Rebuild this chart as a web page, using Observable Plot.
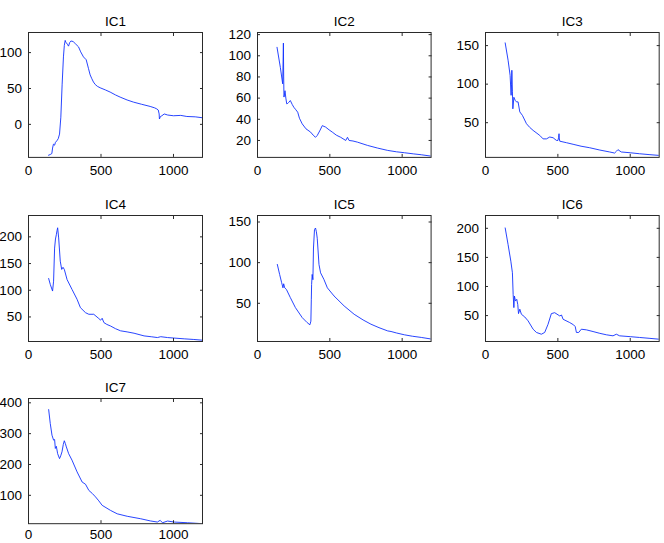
<!DOCTYPE html>
<html>
<head>
<meta charset="utf-8">
<script src="https://cdn.jsdelivr.net/npm/d3@7"></script>
<script src="https://cdn.jsdelivr.net/npm/@observablehq/plot@0.6"></script>
<style>
  html, body { margin: 0; padding: 0; background: #fff; }
  #fig { position: relative; width: 664px; height: 543px; overflow: hidden; }
  #fig svg { position: absolute; }
</style>
</head>
<body>
<div id="fig"></div>
<script>
// ---- data ----
const titles = ["IC1", "IC2", "IC3", "IC4", "IC5", "IC6", "IC7"];
const xTicks = [0, 500, 1000];
const xDomain = [0, 1200];

const ic1X = [138,150,161,166,172,180,186,195,205,214,223,232,241,247,253,258,264,270,276,284,292,300,310,325,345,360,379,398,414,425,437,448,460,475,494,530,563,600,632,680,724,780,839,870,885,895,901,903,910,920,936,960,1000,1050,1092,1150,1196];
const ic1Y = [-43,-42,-40.6,-33,-27.6,-29,-25,-23,-20,-13.5,10,56,94,110,117,114,113,111,109,114,116,116,115,112,108,101,94,90,77.6,69,63.5,59,55.6,53,51,48,45,41,38,34,31,28,25,23,21.5,20,14.5,7.5,11,12,14.5,13,12,12.5,11,10.5,9.3];
const ic1Ticks = [0, 50, 100];
const ic1Dom = [-46, 128];

const ic2X = [135,158,174,177,179,181,183,186,190,196,202,209,216,227,240,251,265,278,290,309,335,367,385,401,413,430,448,471,495,517,545,575,610,622,633,660,691,761,830,900,960,1016,1080,1132,1200];
const ic2Y = [108,89,73.5,95,112,80,61,63,67,60,54.6,55,56,57.7,54,51.4,49,46.7,41,35.7,31,27.9,25,23,24.7,29,34,32.6,30,27.9,25,23,20,23,20,19.5,18.4,15.3,12.8,10.6,9.3,8.4,7.3,6.5,5.2];
const ic2Ticks = [20, 40, 60, 80, 100, 120];
const ic2Dom = [4, 122];

const ic3X = [136,156,170,177,180,182,186,189,196,205,214,225,237,255,283,305,329,375,398,421,444,467,490,501,505,508,510,513,560,605,660,720,790,858,892,905,915,938,1000,1065,1130,1196];
const ic3Y = [153.5,131,111.5,85.5,100,118,90,68,83,79,77,77,64,59.5,48.7,44,40,33.5,29,29,31.4,30.5,27,27,31,35.7,30,26,24,22,19.5,17.5,14.5,12,10.6,13,15,12,11,9.7,8.6,7.6];
const ic3Ticks = [50, 100, 150];
const ic3Dom = [5, 167];

const ic4X = [139,150,166,173,180,186,192,197,201,208,219,229,238,247,266,300,335,358,393,416,450,485,497,508,520,540,566,600,635,680,728,797,850,889,912,959,1010,1074,1140,1201];
const ic4Y = [122,111,98.5,117,179,196,204,212,217,198,154.5,139,143,139,120,101.6,83,67.4,58,55,55,47,44,47.5,39.4,36,33,28,24,22,19.5,14.5,12.8,11.4,13,11.4,10.3,9,7.8,6.4];
const ic4Ticks = [50, 100, 150, 200];
const ic4Dom = [4, 240];

const ic5X = [137,153,167,176,181,188,200,227,262,309,343,362,369,372,374,378,383,387,394,401,407,413,425,436,459,483,529,599,668,730,784,840,900,923,960,1016,1070,1132,1202];
const ic5Y = [97.8,85.5,75.3,69,74,69,67,57,44.7,32.4,26.3,23.5,28,55,73,85.5,79,118,140.6,142.6,138,130,97.8,87.5,79.4,69,59,46.7,36.5,29.5,24.3,20,16,15.3,13.5,11.2,9.5,8,6];
const ic5Ticks = [50, 100, 150];
const ic5Dom = [3, 158];

const ic6X = [136,156,175,186,191,196,200,207,216,223,228,237,248,271,294,329,352,386,409,432,455,478,513,525,536,582,609,620,628,644,662,697,743,790,835,881,904,927,1000,1065,1130,1196];
const ic6Y = [200.6,172,143.5,123.6,86.5,63.7,83.6,75,78,69,53.4,61,52.3,47.7,41,26.6,21,18,21,35,53.4,55,49.4,51,43.7,38,34,31,21,21,26.6,25.5,22.6,19.5,17,15.2,18,15.2,13.8,12.4,11,9.5];
const ic6Ticks = [50, 100, 150, 200];
const ic6Dom = [5.5, 222];

const ic7X = [139,150,162,173,180,185,192,201,214,222,231,240,247,254,261,277,300,335,370,393,416,440,462,485,508,566,612,681,774,840,889,908,924,959,1005,1097,1150,1201];
const ic7Y = [378,333,295,279,281,252,259,235,219,228,241,265,277,268,257,235,214,176,143,136,116,106,95,82,67.5,51,40,32,24,17,13.3,19,11,16.6,13.3,11,9.5,8];
const ic7Ticks = [100, 200, 300, 400];
const ic7Dom = [8, 414];

// ---- layout of the 3x3 subplot grid (frame positions in page pixels) ----
const colL = [28.3, 256.7, 485.3];
const colR = [202.3, 430.3, 659];
const rowT = [32.3, 214.5, 398.3];
const rowB = [157.2, 340.5, 523.5];
const rowLabelPad = [11.3, 11.3, 9.0];

const panels = [
  {x: ic1X, y: ic1Y, ticks: ic1Ticks, dom: ic1Dom},
  {x: ic2X, y: ic2Y, ticks: ic2Ticks, dom: ic2Dom},
  {x: ic3X, y: ic3Y, ticks: ic3Ticks, dom: ic3Dom},
  {x: ic4X, y: ic4Y, ticks: ic4Ticks, dom: ic4Dom},
  {x: ic5X, y: ic5Y, ticks: ic5Ticks, dom: ic5Dom},
  {x: ic6X, y: ic6Y, ticks: ic6Ticks, dom: ic6Dom},
  {x: ic7X, y: ic7Y, ticks: ic7Ticks, dom: ic7Dom}
];

const fig = document.getElementById("fig");
const mL = 40, mR = 12, mT = 28, mB = 28;
const axisColor = "#2a2a2a";
const fontSize = 13.5;
const fmt = d => String(d);

panels.forEach((p, i) => {
  const r = Math.floor(i / 3), c = i % 3;
  const fw = colR[c] - colL[c], fh = rowB[r] - rowT[r];
  const data = p.x.map((xv, k) => ({x: xv, y: p.y[k]}));
  const chart = Plot.plot({
    width: fw + mL + mR,
    height: fh + mT + mB,
    marginLeft: mL, marginRight: mR, marginTop: mT, marginBottom: mB,
    style: {fontFamily: "'Liberation Sans', Arial, sans-serif", fontSize: fontSize + "px", background: "transparent", color: "#000", overflow: "visible"},
    x: {domain: xDomain},
    y: {domain: p.dom},
    marks: [
      Plot.line(data, {x: "x", y: "y", stroke: "#1030ff", strokeWidth: 0.9, clip: true}),
      Plot.frame({stroke: axisColor, strokeWidth: 1}),
      Plot.axisX(xTicks, {anchor: "bottom", tickSize: -3, tickPadding: rowLabelPad[r], tickFormat: fmt, stroke: axisColor, fill: "#000", label: null}),
      Plot.axisX(xTicks, {anchor: "top", tickSize: -3, tickFormat: () => "", stroke: axisColor, label: null}),
      Plot.axisY(p.ticks, {anchor: "left", tickSize: -3, tickPadding: 9.6, tickFormat: fmt, stroke: axisColor, fill: "#000", label: null}),
      Plot.axisY(p.ticks, {anchor: "right", tickSize: -3, tickFormat: () => "", stroke: axisColor, label: null}),
      Plot.text([titles[i]], {frameAnchor: "top", dy: -15.6, fill: "#000", fontSize: fontSize})
    ]
  });
  chart.style.left = (colL[c] - mL) + "px";
  chart.style.top = (rowT[r] - mT) + "px";
  fig.appendChild(chart);
});
</script>
</body>
</html>
